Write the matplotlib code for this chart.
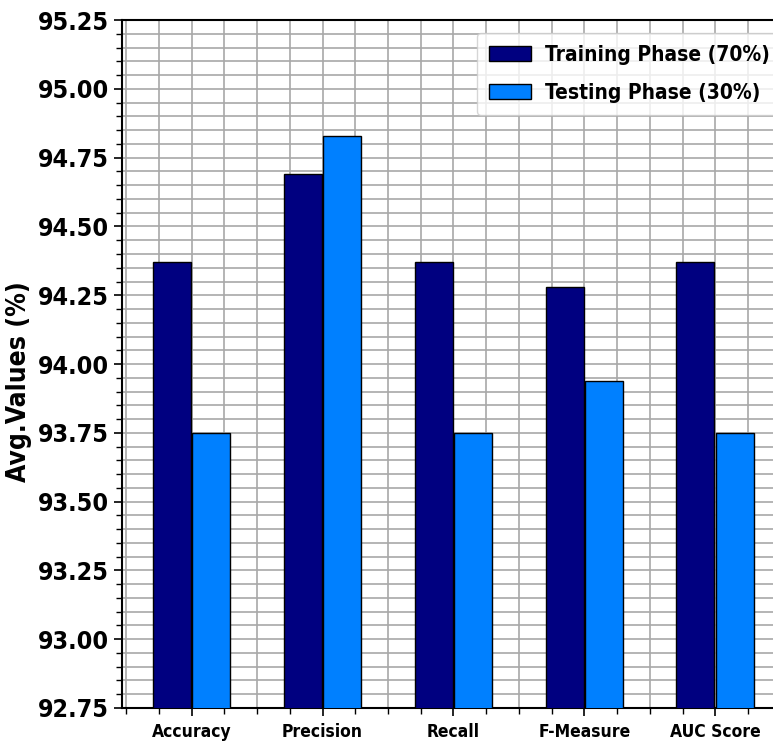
import numpy as np
import matplotlib
matplotlib.use('Agg')
import matplotlib.pyplot as plt
from matplotlib.ticker import MultipleLocator, AutoMinorLocator, FormatStrFormatter

metrics = ['Accuracy', 'Precision', 'Recall', 'F-Measure', 'AUC Score']
train_vals = [94.37, 94.69, 94.37, 94.28, 94.37]
test_vals = [93.75, 94.83, 93.75, 93.94, 93.75]
series_names = ['Training Phase (70%)', 'Testing Phase (30%)']

plt.rcParams['font.family'] = 'DejaVu Sans'
plt.rcParams['font.weight'] = 'bold'
plt.rcParams['font.stretch'] = 'condensed'

fig = plt.figure(figsize=(7.73, 7.46), dpi=100)
ax = fig.add_axes([0.158, 0.051, 0.842, 0.922])

x = np.arange(len(metrics))
w = 0.29
ax.bar(x - 0.152, train_vals, w, color='#000080', edgecolor='black', linewidth=1,
       label=series_names[0], zorder=3)
ax.bar(x + 0.152, test_vals, w, color='#0080ff', edgecolor='black', linewidth=1,
       label=series_names[1], zorder=3)

ax.set_ylim(92.75, 95.25)
ax.set_xlim(-0.53, 4.44)
ax.yaxis.set_major_locator(MultipleLocator(0.25))
ax.yaxis.set_minor_locator(AutoMinorLocator(5))
ax.xaxis.set_minor_locator(AutoMinorLocator(4))
ax.yaxis.set_major_formatter(FormatStrFormatter('%.2f'))
ax.set_xticks(x)
ax.set_xticklabels(metrics, fontsize=12.5, fontweight='bold', fontstretch='condensed')
for lb in ax.get_yticklabels():
    lb.set_fontsize(18)
    lb.set_fontweight('bold')
    lb.set_fontstretch('condensed')

ax.grid(which='both', color='#a8a8a8', linewidth=1.2, zorder=0)
ax.set_axisbelow(True)
ax.tick_params(which='major', length=6, width=1.2)
ax.tick_params(which='minor', length=4, width=1)
ax.tick_params(axis='x', pad=5)
for s in ['left', 'bottom', 'top']:
    ax.spines[s].set_linewidth(1.5)
ax.spines['right'].set_visible(False)

ax.set_ylabel('Avg.Values (%)', fontsize=19, fontweight='bold', fontstretch='condensed')
ax.yaxis.set_label_coords(-0.138, 0.474)

ax.legend(loc='upper right', bbox_to_anchor=(1.018, 0.985),
          prop={'weight': 'bold', 'size': 15, 'stretch': 'condensed'},
          handlelength=2.0, handletextpad=0.7, labelspacing=0.85,
          borderpad=0.6, borderaxespad=0.1)

fig.savefig('out.png', dpi=100)
